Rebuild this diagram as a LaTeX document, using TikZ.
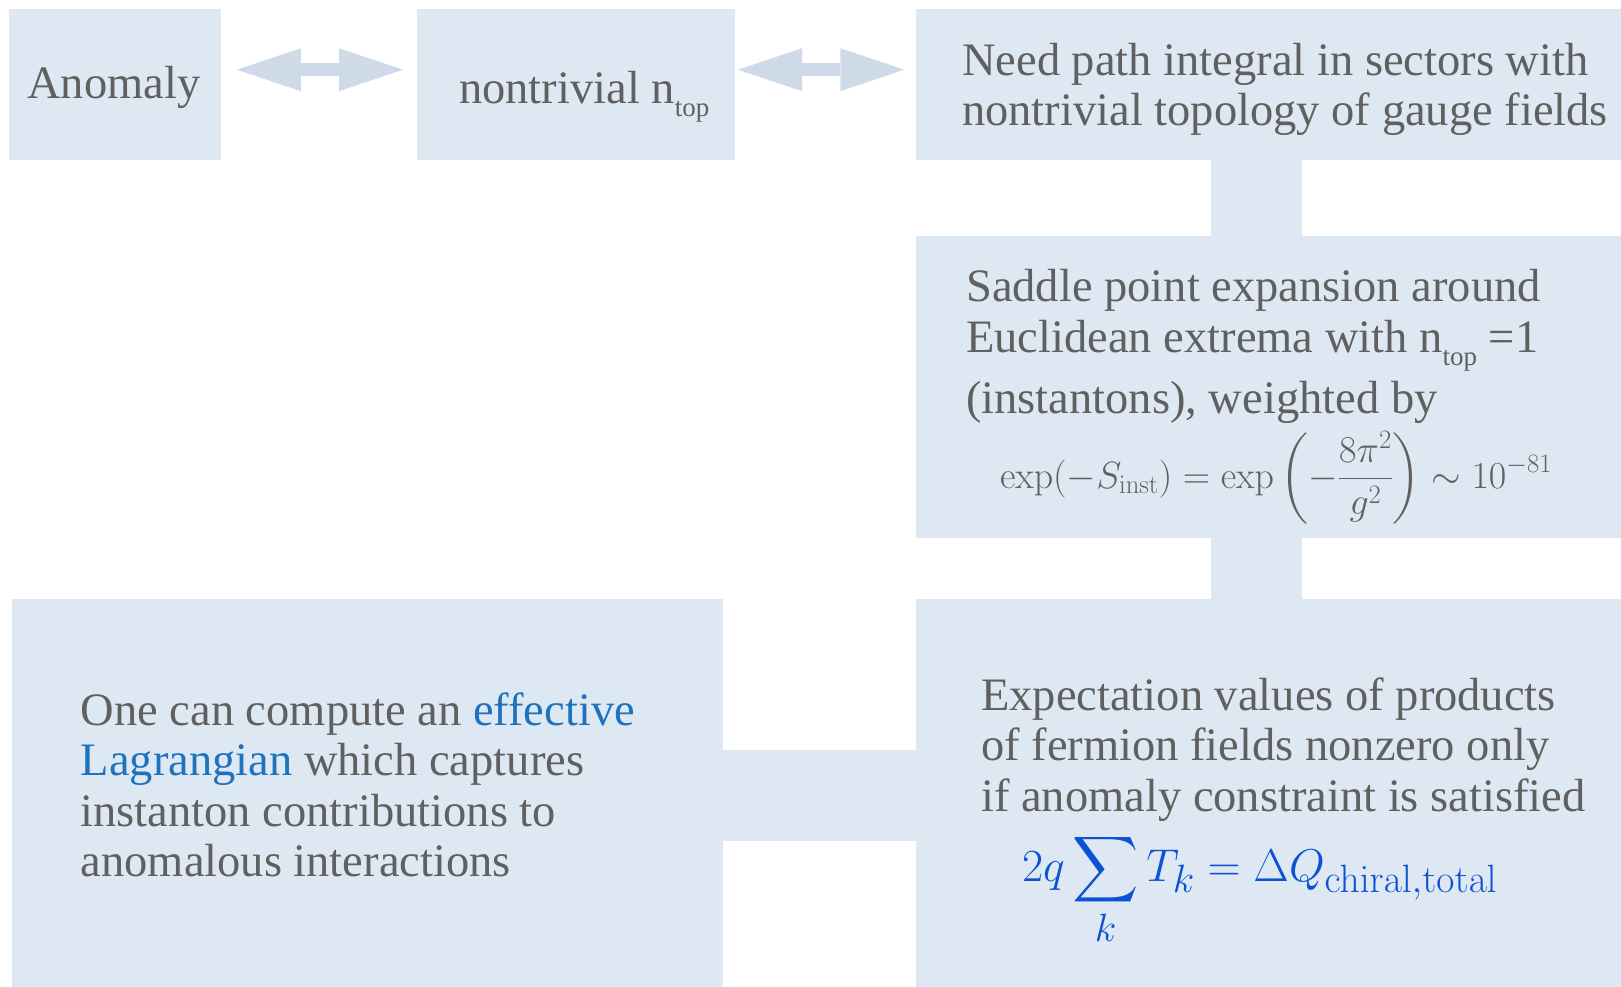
\RequirePackage{fix-cm}
\documentclass[tikz,border=0pt]{standalone}
\usepackage{amsmath}
\usepackage[no-math]{fontspec}
\setmainfont{Liberation Serif}
\usetikzlibrary{arrows.meta,positioning,calc}
\DeclareFontShape{OMX}{cmex}{m}{n}{<-7.5> cmex7 <7.5-8.5> cmex8 <8.5-9.5> cmex9 <9.5-> cmex10}{}
\DeclareMathSizes{46}{46}{39.5}{30}

\definecolor{boxfill}{RGB}{222,232,243}
\definecolor{arrowfill}{RGB}{207,218,233}
\definecolor{textgray}{RGB}{96,96,96}
\definecolor{linkblue}{RGB}{30,115,190}
\definecolor{mathblue}{RGB}{12,82,212}

\newcommand{\bigtext}{\fontsize{46.5}{50.5}\selectfont}
\newcommand{\toptext}[1]{\raisebox{-13pt}{\fontsize{27}{27}\selectfont #1}}

\tikzset{
  box/.style={fill=boxfill, inner sep=0pt, anchor=north west},
  txt/.style={text=textgray, inner sep=0pt, font=\bigtext, align=left, anchor=north west},
  bar/.style={draw=boxfill, line width=91pt},
  fatarrow/.style={color=arrowfill, line width=13pt,
    {Triangle[length=64pt,width=43pt,line width=0pt]}-{Triangle[length=64pt,width=43pt,line width=0pt]}}
}

\begin{document}
\begin{tikzpicture}[x=1pt, y=-1pt]
    \useasboundingbox (0,0) rectangle (1621,986);

    % Boxes
    \node[box, minimum width=212pt, minimum height=151pt] (anomaly) at (9,9) {};
    \node[box, minimum width=318pt, minimum height=151pt] (ntop) at (417,9) {};
    \node[box, minimum width=725pt, minimum height=151pt] (need) at (915.5,9) {};
    \node[box, minimum width=725pt, minimum height=302pt] (saddle) at (915.5,236) {};
    \node[box, minimum width=725pt, minimum height=393pt] (expect) at (915.5,599) {};
    \node[box, minimum width=711pt, minimum height=393pt] (efflag) at (11.7,599) {};

    % Connecting bars
    \coordinate (spine) at (1256,0);
    \draw[bar] (need.south -| spine) -- (saddle.north -| spine);
    \draw[bar] (saddle.south -| spine) -- (expect.north -| spine);
    \draw[bar] (efflag.east) -- (expect.west);

    % Double arrows
    \draw[fatarrow, shorten <=15.5pt, shorten >=14pt] ([yshift=15pt]anomaly.east) -- ([yshift=15pt]ntop.west);
    \draw[fatarrow, shorten <=2.7pt, shorten >=11.2pt] ([yshift=15pt]ntop.east) -- ([yshift=15pt]need.west);

    % Texts
    \node[txt, anchor=base west] (anomalytxt) at (27,98) {Anomaly};
    \node[txt, anchor=base west] (ntoptxt) at (459,103) {nontrivial n\toptext{top}};
    \node[txt] (needtxt) at (962,39.6) {\strut Need path integral in sectors with\\nontrivial topology of gauge fields};
    \node[txt] (saddletxt) at (966,266.3) {\strut Saddle point expansion around\\Euclidean extrema with n\toptext{top} =1\\[9pt](instantons), weighted by};
    \node[txt, anchor=base, font={\fontsize{38}{42}\selectfont}] (saddleeq) at (1276,488)
        {$\displaystyle \exp(-S_{\mathrm{inst}}) = \exp\left(-\frac{8\pi^2}{g^2}\right) \sim 10^{-81}$};
    \node[txt] (expecttxt) at (981,674.6) {\strut Expectation values of products\\of fermion fields nonzero only\\if anomaly constraint is satisfied};
    \node[txt, anchor=base, text=mathblue, font={\fontsize{46}{50}\selectfont}] (expecteq) at (1259.5,881)
        {$\displaystyle 2q\sum_k T_k = \Delta Q_{\mathrm{chiral,total}}$};
    \node[txt] (efflagtxt) at (80.5,689.6) {\strut One can compute an \textcolor{linkblue}{effective}\\\textcolor{linkblue}{Lagrangian} which captures\\instanton contributions to\\anomalous interactions};
\end{tikzpicture}
\end{document}
